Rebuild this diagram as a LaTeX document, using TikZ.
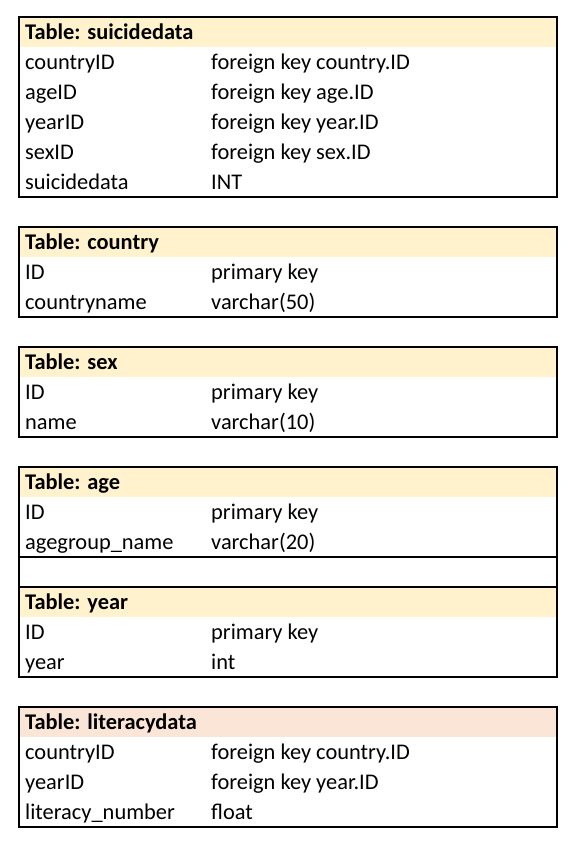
\documentclass[tikz,border=0pt]{standalone}
\usepackage{fontspec}
\setmainfont{Carlito}
\usetikzlibrary{positioning}
\definecolor{hdryellow}{HTML}{FFF2CC}
\definecolor{hdrpeach}{HTML}{FBE5D6}

\begin{document}
\begin{tikzpicture}[x=1pt, y=-1pt,
  frame/.style={draw, line width=2pt},
  sepline/.style={draw, line width=2pt},
  cell/.style={anchor=west, inner sep=0pt, text height=15pt, text depth=5pt,
    yshift=-2pt, font=\fontsize{22.4}{26}\selectfont},
  hdr/.style={cell, font=\fontsize{22.4}{26}\selectfont\bfseries}]
\useasboundingbox (0,0) rectangle (576,844);

% Table: suicidedata
\fill[hdryellow] (19,17) rectangle (557,47);
\draw[frame] (19,17) rectangle (557,197);
\node[hdr]  (sd)  at (25,32)  {Table: suicidedata};
\node[cell] (sdc) at (25,62)  {countryID};
\node[cell] (sdct) at (211,62) {foreign key country.ID};
\node[cell] (sda) at (25,92)  {ageID};
\node[cell] (sdat) at (211,92) {foreign key age.ID};
\node[cell] (sdy) at (25,122) {yearID};
\node[cell] (sdyt) at (211,122) {foreign key year.ID};
\node[cell] (sds) at (25,152) {sexID};
\node[cell] (sdst) at (211,152) {foreign key sex.ID};
\node[cell] (sdv) at (25,182) {suicidedata};
\node[cell] (sdvt) at (211,182) {INT};

% Table: country
\fill[hdryellow] (19,227) rectangle (557,257);
\draw[frame] (19,227) rectangle (557,317);
\node[hdr]  (co)  at (25,242) {Table: country};
\node[cell] (coi) at (25,272) {ID};
\node[cell] (coit) at (211,272) {primary key};
\node[cell] (con) at (25,302) {countryname};
\node[cell] (cont) at (211,302) {varchar(50)};

% Table: sex
\fill[hdryellow] (19,347) rectangle (557,377);
\draw[frame] (19,347) rectangle (557,437);
\node[hdr]  (sx)  at (25,362) {Table: sex};
\node[cell] (sxi) at (25,392) {ID};
\node[cell] (sxit) at (211,392) {primary key};
\node[cell] (sxn) at (25,422) {name};
\node[cell] (sxnt) at (211,422) {varchar(10)};

% Table: age + Table: year (one block)
\fill[hdryellow] (19,467) rectangle (557,497);
\fill[hdryellow] (19,587) rectangle (557,617);
\draw[frame] (19,467) rectangle (557,677);
\draw[sepline] (19,557) -- (557,557);
\draw[sepline] (19,587) -- (557,587);
\node[hdr]  (ag)  at (25,482) {Table: age};
\node[cell] (agi) at (25,512) {ID};
\node[cell] (agit) at (211,512) {primary key};
\node[cell] (agn) at (25,542) {agegroup\_name};
\node[cell] (agnt) at (211,542) {varchar(20)};
\node[hdr]  (yr)  at (25,602) {Table: year};
\node[cell] (yri) at (25,632) {ID};
\node[cell] (yrit) at (211,632) {primary key};
\node[cell] (yrv) at (25,662) {year};
\node[cell] (yrvt) at (211,662) {int};

% Table: literacydata
\fill[hdrpeach] (19,707) rectangle (557,737);
\draw[frame] (19,707) rectangle (557,827);
\node[hdr]  (ld)  at (25,722) {Table: literacydata};
\node[cell] (ldc) at (25,752) {countryID};
\node[cell] (ldct) at (211,752) {foreign key country.ID};
\node[cell] (ldy) at (25,782) {yearID};
\node[cell] (ldyt) at (211,782) {foreign key year.ID};
\node[cell] (ldn) at (25,812) {literacy\_number};
\node[cell] (ldnt) at (211,812) {float};
\end{tikzpicture}
\end{document}
